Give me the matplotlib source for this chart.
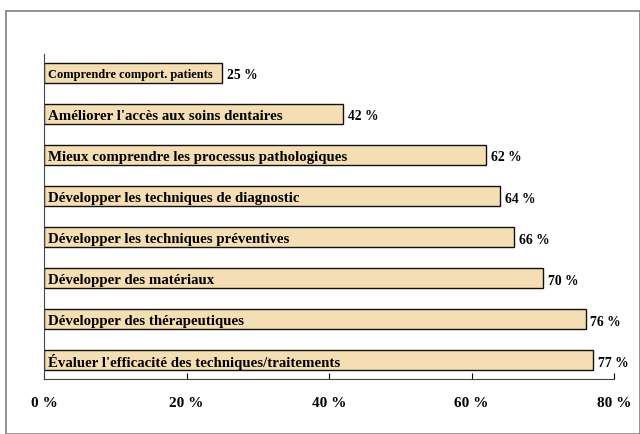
import matplotlib.pyplot as plt
from matplotlib.patches import Rectangle

labels = [
    "Évaluer l'efficacité des techniques/traitements",
    "Développer des thérapeutiques",
    "Développer des matériaux",
    "Développer les techniques préventives",
    "Développer les techniques de diagnostic",
    "Mieux comprendre les processus pathologiques",
    "Améliorer l'accès aux soins dentaires",
    "Comprendre comport. patients",
]
values = [77, 76, 70, 66, 64, 62, 42, 25]
ticks = [0, 20, 40, 60, 80]

plt.rcParams['font.family'] = ['Liberation Serif', 'DejaVu Serif']

fig = plt.figure(figsize=(6.4, 4.35), dpi=100)
# frame around the whole chart
fig.patches.append(Rectangle((6 / 640, 0), 1 - 6 / 640, 1 - 12 / 435,
                             transform=fig.transFigure, fill=False,
                             edgecolor='#808080', linewidth=1.2))

ax = fig.add_axes([44 / 640, 1 - 380 / 435, 570 / 640, 325 / 435])
y = range(len(values))
ax.barh(y, values, height=0.5, color='#F5DEB3', edgecolor='#111111', linewidth=1.0)

for i, (lab, v) in enumerate(zip(labels, values)):
    size = 9 if i == len(values) - 1 else 10.7
    ax.text(0.5, i - 0.03, lab, va='center', ha='left', fontsize=size, fontweight='bold')
    ax.text(v + 0.7, i - 0.05, f"{v} %", va='center', ha='left', fontsize=9.8, fontweight='bold')

ax.set_xlim(0, 80)
ax.set_ylim(-0.46, 7.46)
ax.set_xticks(ticks)
ax.set_xticklabels([f"{t} %" for t in ticks], fontsize=11, fontweight='bold')
ax.tick_params(axis='x', direction='in', length=4, pad=12)
ax.set_yticks([])
for s in ['top', 'right']:
    ax.spines[s].set_visible(False)
for s in ['left', 'bottom']:
    ax.spines[s].set_color('#444444')

fig.savefig('out.png', dpi=100)
